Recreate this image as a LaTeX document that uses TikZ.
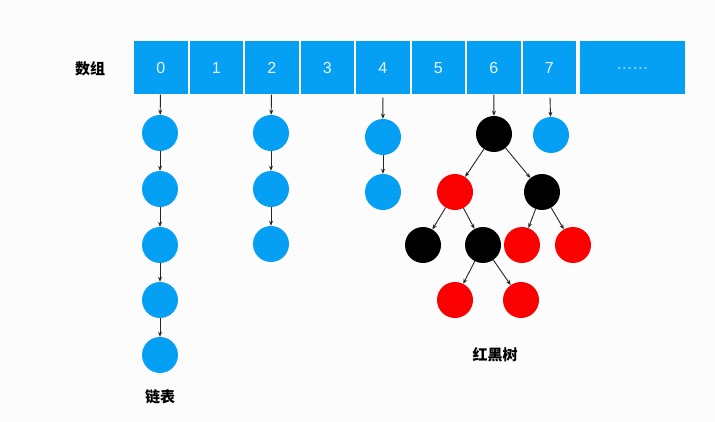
\documentclass[tikz,border=0pt]{standalone}
\usepackage{fontspec}
\setmainfont{Liberation Sans}
\newfontfamily\cjk{Noto Sans CJK SC}
\usetikzlibrary{arrows.meta}
\definecolor{azul}{RGB}{5,160,243}
\definecolor{rojo}{RGB}{250,0,0}
\definecolor{fondo}{RGB}{252,252,253}

\begin{document}
\begin{tikzpicture}[x=1pt,y=-1pt,
    celda/.style={rectangle, fill=azul, minimum width=53.5pt, minimum height=53pt,
      inner sep=0pt, text=white!92!azul, font=\fontsize{16}{16}\selectfont},
    nodo/.style={circle, minimum size=36pt, inner sep=0pt},
    lista/.style={nodo, fill=azul},
    negro/.style={nodo, fill=black},
    rojo/.style={nodo, fill=rojo},
    flecha/.style={-{Stealth[length=5pt,width=4pt]}, line width=0.9pt, black!85},
    etiqueta/.style={font=\cjk\bfseries\fontsize{15}{15}\selectfont}]
 % Area fija de la figura
    \useasboundingbox (0,0) rectangle (715,422);
    \fill[fondo] (0,0) rectangle (715,422);

 % Arreglo
    \node[etiqueta] (lblarr) at (90,69) {数组};
    \foreach \i in {0,...,7}
        \node[celda] (c\i) at (160.75+55.5*\i,68) {\i};
    \node[celda, minimum width=105pt, text=white!55!azul,
          font=\fontsize{19}{19}\selectfont] (cmas) at (632.5,68) {\raisebox{-4pt}{......}};

 % Lista en 0
    \node[lista] (a1) at (160,133) {};
    \node[lista] (a2) at (160,189) {};
    \node[lista] (a3) at (160,245) {};
    \node[lista] (a4) at (160,300) {};
    \node[lista] (a5) at (160,355) {};
    \node[etiqueta] (lbllista) at (160,397) {链表};

 % Lista en 2
    \node[lista] (b1) at (271,133) {};
    \node[lista] (b2) at (271,189) {};
    \node[lista] (b3) at (271,244) {};

 % Lista en 4 y en 7
    \node[lista] (d1) at (383,137) {};
    \node[lista] (d2) at (383,192) {};
    \node[lista] (e1) at (551,135) {};

 % Arbol rojo-negro en 6
    \node[negro] (raiz) at (494,134) {};
    \node[rojo]  (t1) at (455,192) {};
    \node[negro] (t2) at (542,192) {};
    \node[negro] (t11) at (423,245) {};
    \node[negro] (t12) at (483,245) {};
    \node[rojo]  (t21) at (522,245) {};
    \node[rojo]  (t22) at (573,245) {};
    \node[rojo]  (t121) at (455,300) {};
    \node[rojo]  (t122) at (521,300) {};
    \node[etiqueta] (lblarbol) at (495,355) {红黑树};

 % Flechas
    \draw[flecha] (c0) -- (a1);
    \draw[flecha] (a1) -- (a2);
    \draw[flecha] (a2) -- (a3);
    \draw[flecha] (a3) -- (a4);
    \draw[flecha] (a4) -- (a5);
    \draw[flecha] (c2) -- (b1);
    \draw[flecha] (b1) -- (b2);
    \draw[flecha] (b2) -- (b3);
    \draw[flecha, shorten <=3pt] (c4) -- (d1);
    \draw[flecha] (d1) -- (d2);
    \draw[flecha, shorten <=3pt] (c7) -- (e1);
    \draw[flecha] (c6) -- (raiz);
    \draw[flecha] (raiz) -- (t1);
    \draw[flecha] (raiz) -- (t2);
    \draw[flecha] (t1) -- (t11);
    \draw[flecha] (t1) -- (t12);
    \draw[flecha] (t2) -- (t21);
    \draw[flecha] (t2) -- (t22);
    \draw[flecha] (t12) -- (t121);
    \draw[flecha] (t12) -- (t122);

\end{tikzpicture}
\end{document}
